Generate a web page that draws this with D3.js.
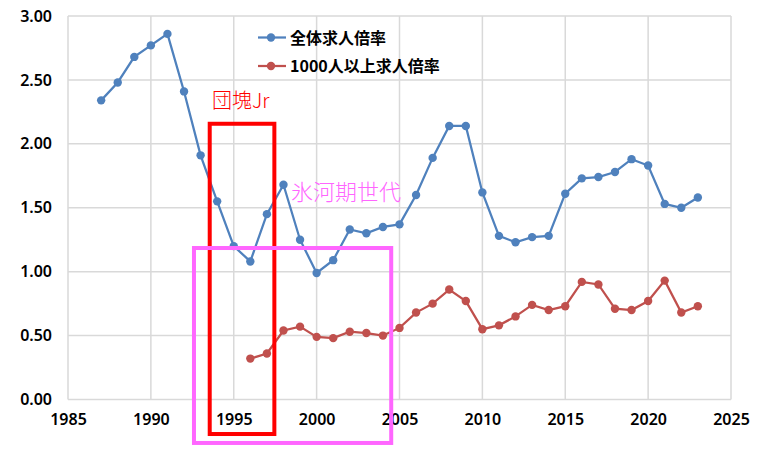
<!DOCTYPE html>
<html>
<head>
<meta charset="utf-8">
<script src="https://cdn.jsdelivr.net/npm/d3@7"></script>
<style>
  html, body { margin: 0; padding: 0; background: #ffffff; }
  svg { display: block; }
</style>
</head>
<body>
<svg id="chart" width="766" height="456"></svg>
<script>
// ---------- data ----------
const allYears = [1987,1988,1989,1990,1991,1992,1993,1994,1995,1996,1997,1998,1999,2000,2001,2002,2003,2004,2005,2006,2007,2008,2009,2010,2011,2012,2013,2014,2015,2016,2017,2018,2019,2020,2021,2022,2023];
const allRatio = [2.34,2.48,2.68,2.77,2.86,2.41,1.91,1.55,1.20,1.08,1.45,1.68,1.25,0.99,1.09,1.33,1.30,1.35,1.37,1.60,1.89,2.14,2.14,1.62,1.28,1.23,1.27,1.28,1.61,1.73,1.74,1.78,1.88,1.83,1.53,1.50,1.58];
const bigYears = [1996,1997,1998,1999,2000,2001,2002,2003,2004,2005,2006,2007,2008,2009,2010,2011,2012,2013,2014,2015,2016,2017,2018,2019,2020,2021,2022,2023];
const bigRatio = [0.32,0.36,0.54,0.57,0.49,0.48,0.53,0.52,0.50,0.56,0.68,0.75,0.86,0.77,0.55,0.58,0.65,0.74,0.70,0.73,0.92,0.90,0.71,0.70,0.77,0.93,0.68,0.73];
const seriesNames = ["全体求人倍率", "1000人以上求人倍率"];
const xTicks = [1985,1990,1995,2000,2005,2010,2015,2020,2025];
const yTicks = [0,0.5,1,1.5,2,2.5,3];
const annoLabels = ["団塊Jr", "氷河期世代"];

// ---------- layout ----------
const svg = d3.select("#chart");
const x = d3.scaleLinear().domain([1985, 2025]).range([68, 731]);
const y = d3.scaleLinear().domain([0, 3]).range([399.5, 16]);
const gridColor = "#d9d9d9";
const colors = ["#4f81bd", "#c0504d"];
const tickFont = "'Noto Sans', 'DejaVu Sans', sans-serif";

// gridlines
svg.append("g").selectAll("line").data(yTicks).join("line")
  .attr("x1", x(1985)).attr("x2", x(2025))
  .attr("y1", d => y(d)).attr("y2", d => y(d))
  .attr("stroke", gridColor).attr("stroke-width", 1.5);
svg.append("g").selectAll("line").data(xTicks).join("line")
  .attr("x1", d => x(d)).attr("x2", d => x(d))
  .attr("y1", y(0)).attr("y2", y(3))
  .attr("stroke", gridColor).attr("stroke-width", 1.5);

// axes
const yAxis = d3.axisLeft(y).tickValues(yTicks).tickFormat(d3.format(".2f")).tickSize(0).tickPadding(16);
const xAxis = d3.axisBottom(x).tickValues(xTicks).tickFormat(d3.format("d")).tickSize(0).tickPadding(14);
const gy = svg.append("g").attr("transform", `translate(${x(1985)},0)`).call(yAxis);
const gx = svg.append("g").attr("transform", `translate(0,${y(0)})`).call(xAxis);
[gx, gy].forEach(g => {
  g.select(".domain").remove();
  g.selectAll("text").attr("font-family", tickFont).attr("font-size", 16)
    .attr("font-weight", 600).attr("fill", "#000");
});

// series
const series = [
  { years: allYears, vals: allRatio, color: colors[0] },
  { years: bigYears, vals: bigRatio, color: colors[1] }
];
const line = d3.line().x(d => x(d[0])).y(d => y(d[1]));
series.forEach(s => {
  const pts = s.years.map((yr, i) => [yr, s.vals[i]]);
  svg.append("path").datum(pts).attr("d", line)
    .attr("fill", "none").attr("stroke", s.color).attr("stroke-width", 2.25);
  svg.append("g").selectAll("circle").data(pts).join("circle")
    .attr("cx", d => x(d[0])).attr("cy", d => y(d[1])).attr("r", 4.2)
    .attr("fill", s.color);
});

// legend
const legend = svg.append("g");
seriesNames.forEach((name, i) => {
  const ly = 37.5 + i * 28.5;
  legend.append("line").attr("x1", 258).attr("x2", 286).attr("y1", ly).attr("y2", ly)
    .attr("stroke", colors[i]).attr("stroke-width", 2.25);
  legend.append("circle").attr("cx", 271).attr("cy", ly).attr("r", 4.2).attr("fill", colors[i]);
  legend.append("text").attr("x", 290).attr("y", ly + 6).text(name)
    .attr("font-family", "'Noto Sans CJK JP', 'Noto Sans', sans-serif")
    .attr("font-size", 16).attr("font-weight", 700).attr("fill", "#000");
});

// annotation boxes (in data coordinates)
const boxes = [
  { x0: 1993.55, x1: 1997.45, y0: -0.27, y1: 2.157, color: "#ff0000" },
  { x0: 1992.6, x1: 2004.5, y0: -0.34, y1: 1.185, color: "#ff66ff" }
];
svg.append("g").selectAll("rect").data(boxes).join("rect")
  .attr("x", d => x(d.x0)).attr("y", d => y(d.y1))
  .attr("width", d => x(d.x1) - x(d.x0)).attr("height", d => y(d.y0) - y(d.y1))
  .attr("fill", "none").attr("stroke", d => d.color).attr("stroke-width", 4);

svg.append("text").attr("x", 212).attr("y", 108).text(annoLabels[0])
  .attr("font-family", "'Noto Sans CJK JP', sans-serif").attr("font-size", 20)
  .attr("font-weight", 300).attr("fill", "#ff0000");
svg.append("text").attr("x", 291).attr("y", 200).text(annoLabels[1])
  .attr("font-family", "'Noto Sans CJK JP', sans-serif").attr("font-size", 22)
  .attr("font-weight", 300).attr("fill", "#ff66ff");
</script>
</body>
</html>
